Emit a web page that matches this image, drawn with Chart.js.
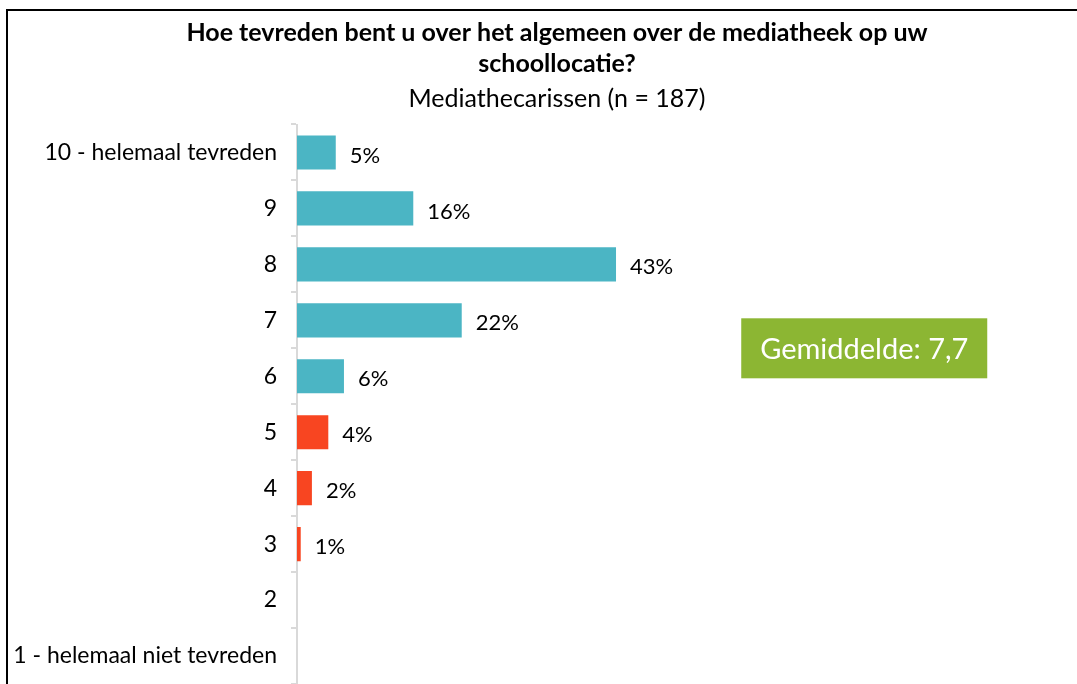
<!DOCTYPE html>
<html>
<head>
<meta charset="utf-8">
<script src="https://cdn.jsdelivr.net/npm/chart.js@4"></script>
<style>
  html, body { margin: 0; padding: 0; background: #fff; overflow: hidden; }
  #frame {
    position: absolute; left: 6px; top: 9px;
    width: 1096px; height: 675px;
    border-top: 2px solid #000; border-left: 2px solid #000;
    box-sizing: border-box;
  }
  #wrap { position: absolute; left: 0; top: 0; width: 1094px; height: 673px; }
</style>
</head>
<body>
<div id="frame"><div id="wrap"><canvas id="chart"></canvas></div></div>
<script>
// Data
const categories = ['10 - helemaal tevreden', '9', '8', '7', '6', '5', '4', '3', '2', '1 - helemaal niet tevreden'];
const scores = [10, 9, 8, 7, 6, 5, 4, 3, 2, 1];
const percentages = [5.2, 15.6, 42.8, 22.1, 6.3, 4.2, 2.0, 0.5, 0, 0];
const titleLines = ['Hoe tevreden bent u over het algemeen over de mediatheek op uw', 'schoollocatie?'];
const subtitleText = 'Mediathecarissen (n = 187)';
const meanLabel = 'Gemiddelde: 7,7';

const TEAL = '#4bb5c4';
const RED = '#f84521';
const GREEN = '#8cb633';
const FONT = 'Lato, "Open Sans", sans-serif';

// percentage labels to the right of each bar
const barLabels = {
    id: 'barLabels',
    afterDatasetsDraw(chart) {
        const ctx = chart.ctx;
        const meta = chart.getDatasetMeta(0);
        ctx.save();
        ctx.font = '22px ' + FONT;
        ctx.fillStyle = '#000';
        ctx.textAlign = 'left';
        ctx.textBaseline = 'middle';
        meta.data.forEach((bar, i) => {
            const v = percentages[i];
            if (!v) return;
            ctx.fillText(Math.round(v) + '%', bar.x + 14, bar.y + 3);
        });
        ctx.restore();
    }
};

// green box with the average
const meanBox = {
    id: 'meanBox',
    afterDraw(chart) {
        const ctx = chart.ctx;
        const x = chart.scales.x, y = chart.scales.y;
        const left = x.getPixelForValue(59.6);
        const cy = (y.getPixelForValue(3) + y.getPixelForValue(4)) / 2;
        const w = 246, h = 60;
        ctx.save();
        ctx.fillStyle = GREEN;
        ctx.fillRect(left, cy - h / 2, w, h);
        ctx.fillStyle = '#fff';
        ctx.font = '29px ' + FONT;
        ctx.textAlign = 'center';
        ctx.textBaseline = 'middle';
        ctx.fillText(meanLabel, left + w / 2, cy + 1);
        ctx.restore();
    }
};

new Chart(document.getElementById('chart'), {
    type: 'bar',
    data: {
        labels: categories,
        datasets: [{
            data: percentages,
            backgroundColor: scores.map(s => s >= 6 ? TEAL : RED),
            categoryPercentage: 1,
            barPercentage: 0.61
        }]
    },
    options: {
        indexAxis: 'y',
        responsive: true,
        maintainAspectRatio: false,
        animation: false,
        layout: { padding: { left: 4, right: 0, top: 0, bottom: 0 } },
        scales: {
            x: {
                display: false,
                min: 0,
                max: 108
            },
            y: {
                afterFit(scale) {
                    scale.width = 285;
                    scale.paddingTop = 0;
                    scale.paddingBottom = 0;
                },
                grid: {
                    drawOnChartArea: false,
                    color: '#d9d9d9',
                    lineWidth: 2,
                    tickLength: 6
                },
                border: { color: '#d9d9d9', width: 2 },
                ticks: {
                    padding: 14,
                    color: '#000',
                    font: { family: FONT, size: 23 }
                }
            }
        },
        plugins: {
            legend: { display: false },
            tooltip: { enabled: false },
            title: {
                display: true,
                text: titleLines,
                color: '#000',
                font: { family: FONT, size: 25, weight: 'bold', lineHeight: 1.25 },
                padding: { top: 6, bottom: 4 }
            },
            subtitle: {
                display: true,
                text: subtitleText,
                color: '#000',
                font: { family: FONT, size: 25, lineHeight: 1.2 },
                padding: { top: 0, bottom: 11 }
            }
        }
    },
    plugins: [barLabels, meanBox]
});
</script>
</body>
</html>
